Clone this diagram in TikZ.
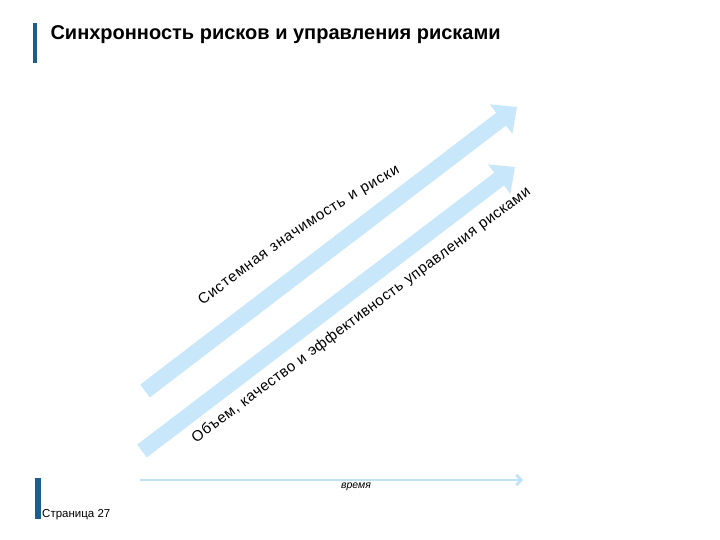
\documentclass[tikz,border=0pt]{standalone}
\usepackage{fontspec}
\setmainfont{Liberation Sans}
\usepackage{xcolor}
\definecolor{barColor}{HTML}{1B5E8E}
\definecolor{arrowColor}{HTML}{C9E7FA}
\definecolor{axisColor}{HTML}{BFE0F7}
\usepackage{tikz}
\usetikzlibrary{positioning, arrows.meta, decorations.text}
\newcommand{\curvefont}{\fontsize{15}{15}\selectfont}

\begin{document}
\begin{tikzpicture}[x=1pt, y=-1pt,
  bigarrow/.style={draw=arrowColor, line width=16pt, -{Triangle[length=20pt,width=36pt]}},
  curvetext/.style={decorate, decoration={text along path, text align=fit to path,
      text format delimiters={|}{|}, text={|\curvefont|#1}}}]
  \useasboundingbox[fill=white] (0,0) rectangle (720,540);

  % side bars
  \fill[barColor] (32.7,23) rectangle (37.3,63);
  \fill[barColor] (35,478) rectangle (40.5,519);

  \node[anchor=base west, font=\fontsize{20}{24}\bfseries\selectfont] (title) at (47,40)
    {Синхронность рисков и управления рисками};

  % the two rising arrows
  \coordinate (tailA) at (145,391);
  \coordinate (headA) at (517,107);
  \coordinate (tailB) at (142,451);
  \coordinate (headB) at (515,167);
  \draw[bigarrow] (tailA) -- (headA);
  \draw[bigarrow] (tailB) -- (headB);

  \path[curvetext={Системная значимость и риски}]
    (203,306) .. controls (265,256) and (330,211) .. (400,173);
  \path[curvetext={Объем, качество и эффективность управления рисками}]
    (196,443) .. controls (300,366) and (420,276) .. (531,194);

  % time axis
  \coordinate (axisL) at (140,480);
  \coordinate (axisR) at (523,480);
  \draw[axisColor, line width=2.5pt, -{Straight Barb[length=5pt,width=10pt]}] (axisL) -- (axisR);
  \node[anchor=base, font=\fontsize{10.5}{12}\itshape\selectfont] (timeLbl) at (356,488) {время};

  \node[anchor=base west, inner sep=0pt, font=\fontsize{11.5}{13}\selectfont] (pageLbl) at (42,517)
    {Страница 27};
\end{tikzpicture}
\end{document}
